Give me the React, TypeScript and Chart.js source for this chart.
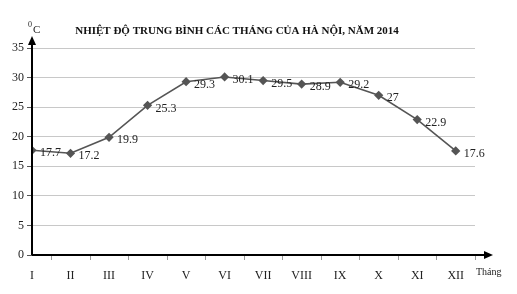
import React, { useEffect, useRef } from "react";
import { Chart, registerables } from "chart.js";
Chart.register(...registerables);

const months = ["I", "II", "III", "IV", "V", "VI", "VII", "VIII", "IX", "X", "XI", "XII"];
const temps = [17.7, 17.2, 19.9, 25.3, 29.3, 30.1, 29.5, 28.9, 29.2, 27, 22.9, 17.6];
const yTicks = [0, 5, 10, 15, 20, 25, 30, 35];
const title = "NHIỆT ĐỘ TRUNG BÌNH CÁC THÁNG CỦA HÀ NỘI, NĂM 2014";

const SERIF = "'Liberation Serif', 'Times New Roman', serif";

const overlay = {
  id: "overlay",
  afterDatasetsDraw(chart: any) {
    const { ctx, chartArea, scales } = chart;
    const x = scales.x;
    const y = scales.y;
    const x0 = x.getPixelForValue(0);
    const y0 = y.getPixelForValue(0);
    ctx.save();
    // data labels
    ctx.fillStyle = "#222";
    ctx.font = `12px ${SERIF}`;
    ctx.textAlign = "left";
    ctx.textBaseline = "middle";
    const meta = chart.getDatasetMeta(0);
    meta.data.forEach((pt: any, i: number) => {
      ctx.fillText(String(temps[i]), pt.x + 8, pt.y + 3);
    });
    // axes
    ctx.strokeStyle = "#000";
    ctx.fillStyle = "#000";
    ctx.lineWidth = 2;
    ctx.beginPath();
    ctx.moveTo(x0, y0);
    ctx.lineTo(x0, chartArea.top - 8);
    ctx.moveTo(x0, y0);
    ctx.lineTo(chartArea.right + 14, y0);
    ctx.stroke();
    // arrowheads
    ctx.beginPath();
    ctx.moveTo(x0, chartArea.top - 12);
    ctx.lineTo(x0 - 4, chartArea.top - 3);
    ctx.lineTo(x0 + 4, chartArea.top - 3);
    ctx.closePath();
    ctx.fill();
    ctx.beginPath();
    ctx.moveTo(chartArea.right + 18, y0);
    ctx.lineTo(chartArea.right + 9, y0 - 4);
    ctx.lineTo(chartArea.right + 9, y0 + 4);
    ctx.closePath();
    ctx.fill();
    // small x ticks between categories
    ctx.strokeStyle = "#999";
    ctx.lineWidth = 1;
    ctx.beginPath();
    for (let i = 0; i < months.length; i++) {
      const px = Math.round(x.getPixelForValue(i + 0.5)) + 0.5;
      ctx.moveTo(px, y0 + 1);
      ctx.lineTo(px, y0 + 5);
    }
    ctx.stroke();
    // unit labels
    ctx.fillStyle = "#222";
    ctx.textAlign = "left";
    ctx.textBaseline = "alphabetic";
    ctx.font = `8px ${SERIF}`;
    ctx.fillText("0", x0 - 4, 27);
    ctx.font = `11px ${SERIF}`;
    ctx.fillText("C", x0 + 1, 33);
    ctx.font = `10px ${SERIF}`;
    ctx.fillText("Tháng", chartArea.right + 1, 275);
    // title
    ctx.font = `bold 11px ${SERIF}`;
    ctx.fillStyle = "#111";
    ctx.textAlign = "center";
    ctx.fillText(title, 237, 34);
    ctx.restore();
  },
};

export default function App() {
  const ref = useRef<HTMLCanvasElement | null>(null);
  useEffect(() => {
    if (!ref.current) return;
    const chart = new Chart(ref.current, {
      type: "line",
      data: {
        datasets: [
          {
            data: temps.map((v, i) => ({ x: i, y: v })),
            borderColor: "#555555",
            backgroundColor: "#555555",
            borderWidth: 1.6,
            pointStyle: "rectRot",
            pointRadius: 3.5,
            pointHoverRadius: 3.5,
            tension: 0,
          },
        ],
      },
      options: {
        animation: false,
        responsive: false,
        events: [],
        layout: { padding: { top: 48, right: 42, left: 0, bottom: 0 } },
        plugins: { legend: { display: false }, title: { display: false }, tooltip: { enabled: false } },
        scales: {
          x: {
            type: "linear",
            min: 0,
            max: 11.5,
            afterFit: (s: any) => {
              s.height = 39;
            },
            afterBuildTicks: (s: any) => {
              s.ticks = months.map((_, i) => ({ value: i }));
            },
            ticks: {
              autoSkip: false,
              maxRotation: 0,
              padding: 6,
              color: "#222",
              font: { family: SERIF, size: 12 },
              callback: (v: any) => months[Number(v)] ?? "",
            },
            grid: { display: false },
            border: { display: false },
          },
          y: {
            min: 0,
            max: 35,
            afterFit: (s: any) => {
              s.width = 32;
            },
            afterBuildTicks: (s: any) => {
              s.ticks = yTicks.map((v) => ({ value: v }));
            },
            ticks: {
              padding: 3,
              color: "#222",
              font: { family: SERIF, size: 12 },
            },
            grid: {
              color: "#c8c8c8",
              tickColor: "#555",
              tickLength: 5,
              lineWidth: 1,
            },
            border: { display: false },
          },
        },
      },
      plugins: [overlay],
    });
    return () => chart.destroy();
  }, []);
  return (
    <div style={{ position: "absolute", left: 0, top: 0, width: 517, height: 294, background: "#fff" }}>
      <canvas ref={ref} width={517} height={294} style={{ width: 517, height: 294 }} />
    </div>
  );
}
